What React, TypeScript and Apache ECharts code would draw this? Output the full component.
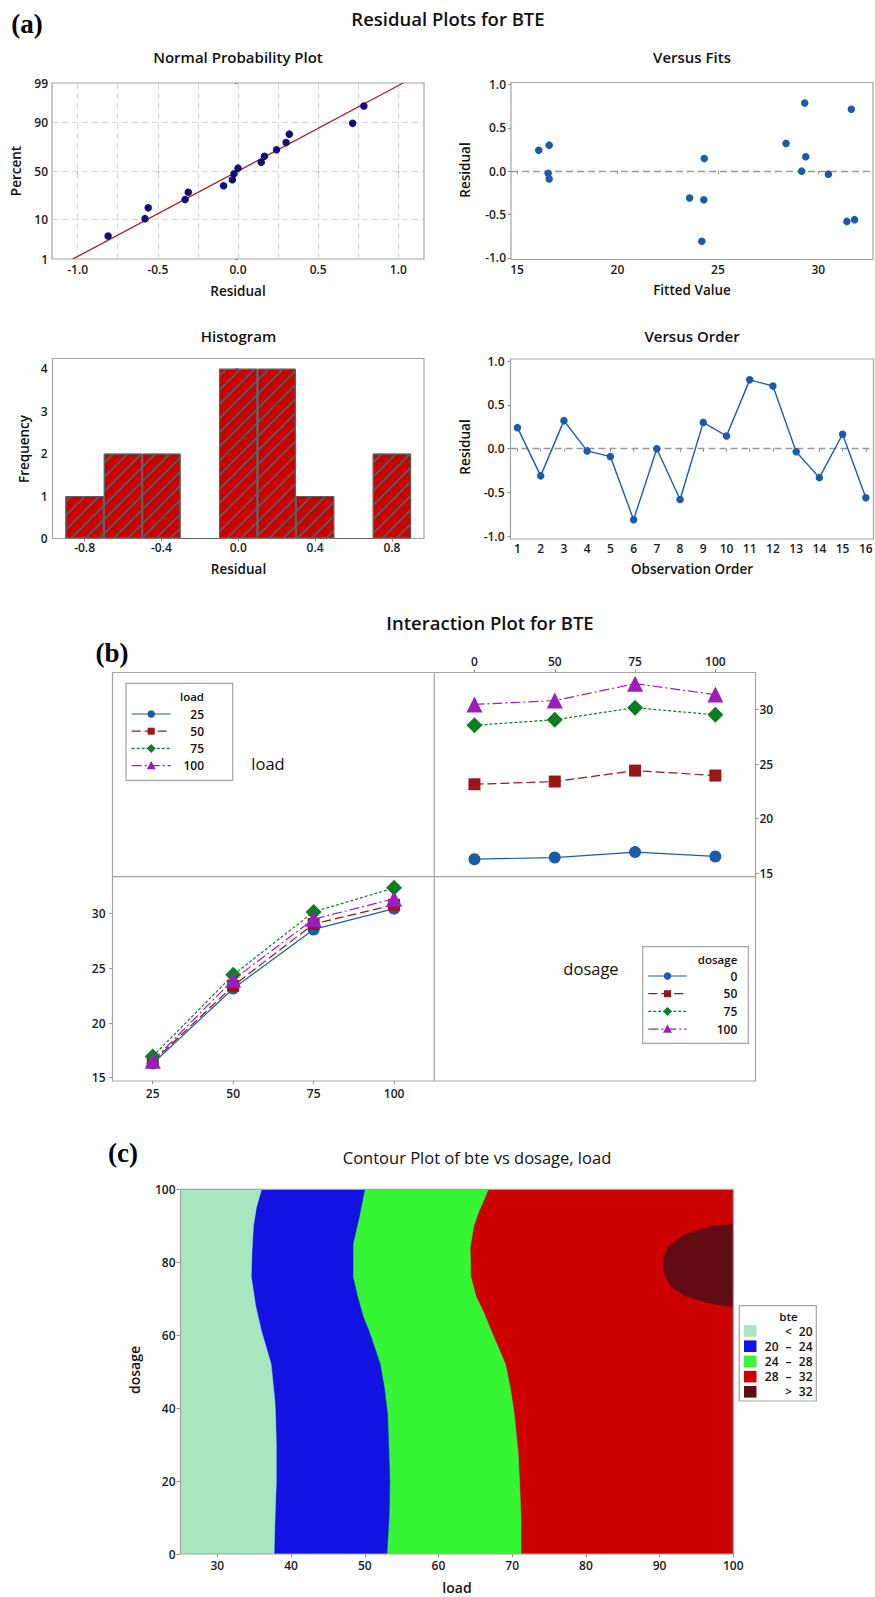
import React, { useEffect, useRef } from 'react';
import * as echarts from 'echarts';

// ---------------- DATA ----------------
const observationOrder = [1, 2, 3, 4, 5, 6, 7, 8, 9, 10, 11, 12, 13, 14, 15, 16];
const residuals = [0.24, -0.31, 0.32, -0.025, -0.09, -0.81, 0.0, -0.58, 0.30, 0.145, 0.785, 0.715, -0.035, -0.33, 0.165, -0.56];
const fittedValues = [16.08, 23.59, 28.39, 16.55, 16.6, 24.2, 29.17, 31.42, 16.6, 24.32, 29.32, 31.64, 30.5, 24.3, 29.37, 31.8];
const npPercents = [4.3, 10.4, 16.5, 22.6, 28.7, 34.8, 40.9, 47.0, 53.0, 59.1, 65.2, 71.3, 77.4, 83.5, 89.6, 95.7];
const npFitLine = [[-1.03, 1], [1.03, 99]];
const npPercentTicks = [1, 10, 50, 90, 99];
const npPercentGrid = [10, 50, 90];
const npResidualTicks = [-1, -0.5, 0, 0.5, 1];
const npResidualGrid = [-1, -0.75, -0.5, -0.25, 0, 0.25, 0.5, 0.75, 1];

const histBins = [-0.8, -0.6, -0.4, -0.2, 0, 0.2, 0.4, 0.6, 0.8];
const histCounts = [1, 2, 2, 0, 4, 4, 1, 0, 2];
const histTicks = [-0.8, -0.4, 0, 0.4, 0.8];
const freqTicks = [0, 1, 2, 3, 4];
const fitTicks = [15, 20, 25, 30];
const residTicks = [-1, -0.5, 0, 0.5, 1];

const loadLevels = ['25', '50', '75', '100'];
const dosageLevels = ['0', '50', '75', '100'];
// rows: load 25,50,75,100 ; cols: dosage 0,50,75,100
const bteMeans = [
  [16.3, 16.45, 16.95, 16.55],
  [23.15, 23.4, 24.4, 23.95],
  [28.55, 29.05, 30.15, 29.5],
  [30.45, 30.8, 32.35, 31.35],
];
const bteTicks = [15, 20, 25, 30];

const contourLoadTicks = [30, 40, 50, 60, 70, 80, 90, 100];
const contourB20 = [[36.0, 100], [35.3, 95], [34.9, 90], [34.7, 83], [34.6, 76], [35.2, 68], [36.0, 61], [37.3, 52], [37.8, 42], [37.9, 38], [38.0, 30], [38.0, 20], [37.8, 8], [37.7, 0]];
const contourB24 = [[50.0, 100], [49.2, 92], [48.4, 85], [48.4, 76], [49.1, 70], [49.8, 65], [50.6, 61], [52.1, 52], [52.7, 45], [53.1, 38], [53.4, 20], [53.3, 10], [53.0, 0]];
const contourB28 = [[66.8, 100], [65.5, 94], [64.8, 90], [64.3, 84], [64.4, 76], [65.1, 70.6], [66.2, 66], [67.2, 61], [69.1, 52], [69.8, 45], [70.3, 38], [70.8, 28], [71.0, 20], [71.2, 10], [71.2, 0]];
const contourB32 = [[100, 90.5], [96.9, 89.8], [93.2, 87.5], [91.3, 84.4], [90.6, 81.2], [90.6, 77.2], [91.5, 73.4], [93.5, 70.8], [96.5, 68.9], [100, 67.8]];
const contourLegendRows = [['', '<', '20'], ['20', '–', '24'], ['24', '–', '28'], ['28', '–', '32'], ['', '>', '32']];

// ---------------- STYLE ----------------
const FONT = '"Open Sans", "Noto Sans", sans-serif';
const SERIF = '"Liberation Serif", "DejaVu Serif", serif';
const BORDER = '#a3a3a3';
const levelColors = ['#1A5CA8', '#9B1616', '#0B7D23', '#9C1DBE'];
const levelSymbols = ['circle', 'rect', 'diamond', 'triangle'];
const levelDash: any[] = ['solid', [9, 4], [3, 2], [10, 3, 2, 3]];
const levelSymbolSize = [12, 12, 16, 16];
const contourColors = ['#A8E6C0', '#1212E2', '#35F535', '#CC0000', '#610B14'];

function normInv(p: number): number {
  const a = [-3.969683028665376e1, 2.209460984245205e2, -2.759285104469687e2, 1.38357751867269e2, -3.066479806614716e1, 2.506628277459239];
  const b = [-5.447609879822406e1, 1.615858368580409e2, -1.556989798598866e2, 6.680131188771972e1, -1.328068155288572e1];
  const c = [-7.784894002430293e-3, -3.223964580411365e-1, -2.400758277161838, -2.549671010229528, 4.374664141464968, 2.938163982698783];
  const d = [7.784695709041462e-3, 3.224671290700398e-1, 2.445134137142996, 3.754408661907416];
  const pl = 0.02425;
  if (p < pl) {
    const q = Math.sqrt(-2 * Math.log(p));
    return (((((c[0] * q + c[1]) * q + c[2]) * q + c[3]) * q + c[4]) * q + c[5]) / ((((d[0] * q + d[1]) * q + d[2]) * q + d[3]) * q + 1);
  }
  if (p <= 1 - pl) {
    const q = p - 0.5, r = q * q;
    return ((((((a[0] * r + a[1]) * r + a[2]) * r + a[3]) * r + a[4]) * r + a[5]) * q) / (((((b[0] * r + b[1]) * r + b[2]) * r + b[3]) * r + b[4]) * r + 1);
  }
  const q = Math.sqrt(-2 * Math.log(1 - p));
  return -(((((c[0] * q + c[1]) * q + c[2]) * q + c[3]) * q + c[4]) * q + c[5]) / ((((d[0] * q + d[1]) * q + d[2]) * q + d[3]) * q + 1);
}
const pz = (pct: number) => normInv(pct / 100);

function txt(text: string, x: number, y: number, size: number, opts: any = {}) {
  const el: any = {
    type: 'text',
    x,
    y,
    z: 50,
    style: {
      text,
      fill: opts.color || '#111',
      fontSize: size,
      fontFamily: opts.family || FONT,
      fontWeight: opts.weight || 'normal',
      align: opts.align || 'center',
      verticalAlign: 'middle',
      textAlign: opts.align || 'center',
      textVerticalAlign: 'middle',
    },
  };
  if (opts.rotate) el.rotation = opts.rotate;
  return el;
}

function marker(kind: string, cx: number, cy: number, s: number, color: string) {
  const h = s / 2;
  if (kind === 'circle') return { type: 'circle', z: 50, shape: { cx, cy, r: h }, style: { fill: color } };
  if (kind === 'rect') return { type: 'rect', z: 50, shape: { x: cx - h, y: cy - h, width: s, height: s }, style: { fill: color } };
  if (kind === 'diamond') return { type: 'polygon', z: 50, shape: { points: [[cx, cy - h], [cx + h, cy], [cx, cy + h], [cx - h, cy]] }, style: { fill: color } };
  return { type: 'polygon', z: 50, shape: { points: [[cx, cy - h], [cx + h, cy + h * 0.8], [cx - h, cy + h * 0.8]] }, style: { fill: color } };
}

function legendBlock(x: number, y: number, w: number, h: number, title: string, labels: string[], rowY0: number, rowStep: number, lineX0: number, lineX1: number, numRight: number, titleY: number) {
  const els: any[] = [];
  els.push({ type: 'rect', z: 40, shape: { x, y, width: w, height: h }, style: { fill: '#fff', stroke: BORDER, lineWidth: 1.2 } });
  els.push(txt(title, numRight, titleY, 11.5, { align: 'right', weight: 600 }));
  labels.forEach((lab, i) => {
    const yy = rowY0 + i * rowStep;
    const dash = levelDash[i] === 'solid' ? null : levelDash[i];
    els.push({ type: 'line', z: 45, shape: { x1: lineX0, y1: yy, x2: lineX1, y2: yy }, style: { stroke: levelColors[i], lineWidth: 1.2, lineDash: dash } });
    const mx = (lineX0 + lineX1) / 2;
    els.push(marker(levelSymbols[i], mx, yy, [7.5, 7, 9, 9][i], levelColors[i]));
    els.push(txt(lab, numRight, yy, 12, { align: 'right', weight: 600 }));
  });
  return els;
}

const axisText = (margin: number, extra: any = {}) => ({ color: '#1a1a1a', fontSize: 12, fontFamily: FONT, fontWeight: 600, margin, ...extra });
const tick = (vals: number[] | null, inside = false) => {
  const t: any = { show: true, length: 3, inside, lineStyle: { color: '#8a8a8a' } };
  if (vals) t.customValues = vals;
  return t;
};

export default function App() {
  const ref = useRef<HTMLDivElement>(null);

  useEffect(() => {
    if (!ref.current) return;
    const chart = echarts.init(ref.current, null, { renderer: 'svg' });

    const zLo = pz(1);
    const zHi = pz(99);
    const pctFormatter = (v: number) => {
      let best = npPercentTicks[0];
      let bd = Infinity;
      npPercentTicks.forEach((p) => {
        const dd = Math.abs(pz(p) - v);
        if (dd < bd) { bd = dd; best = p; }
      });
      return String(best);
    };
    const fmt1 = (v: number) => (Math.abs(v) < 1e-9 ? '0.0' : v.toFixed(1));

    const sortedRes = [...residuals].sort((a, b) => a - b);
    const npData = sortedRes.map((r, i) => [r, pz(npPercents[i])]);

    const leftPoly = (b: number[][]) => [[25, 0], [25, 100], ...b];
    const layers = [[[25, 0], [25, 100], [100, 100], [100, 0]], leftPoly(contourB28), leftPoly(contourB24), leftPoly(contourB20), contourB32];
    const layerColors = [contourColors[3], contourColors[2], contourColors[1], contourColors[0], contourColors[4]];

    const grids: any[] = [
      { left: 52, top: 83, width: 372, height: 176 },
      { left: 511, top: 82.5, width: 362, height: 177 },
      { left: 52.5, top: 358.5, width: 371.5, height: 180 },
      { left: 510.5, top: 359, width: 363, height: 180 },
      { left: 434.3, top: 672.5, width: 321.2, height: 204.2 },
      { left: 112.5, top: 876.7, width: 321.8, height: 204.3 },
      { left: 180.5, top: 1189.3, width: 552.8, height: 364.7 },
    ].map((g, i) => ({ ...g, containLabel: false, outerBoundsMode: 'none', show: i <= 3, borderColor: BORDER, borderWidth: 1.2, backgroundColor: 'transparent' }));

    const baseAxis = { axisLine: { show: false }, splitLine: { show: false } };

    const xAxis: any[] = [
      { ...baseAxis, type: 'value', gridIndex: 0, min: -1.16, max: 1.16, axisTick: tick(npResidualTicks), axisLabel: axisText(4, { customValues: npResidualTicks, formatter: fmt1 }) },
      { ...baseAxis, type: 'value', gridIndex: 1, min: 14.7, max: 32.72, axisTick: tick(fitTicks), axisLabel: axisText(4, { customValues: fitTicks }) },
      { ...baseAxis, type: 'value', gridIndex: 2, min: -0.967, max: 0.967, axisTick: tick(histTicks), axisLabel: axisText(3, { customValues: histTicks, formatter: fmt1 }) },
      { ...baseAxis, type: 'value', gridIndex: 3, min: 0.7, max: 16.33, axisTick: tick(observationOrder), axisLabel: axisText(3, { customValues: observationOrder }) },
      { ...baseAxis, type: 'category', gridIndex: 4, position: 'top', data: dosageLevels, boundaryGap: true, axisTick: { show: true, alignWithLabel: true, length: 3, lineStyle: { color: '#8a8a8a' } }, axisLabel: axisText(5) },
      { ...baseAxis, type: 'category', gridIndex: 5, position: 'bottom', data: loadLevels, boundaryGap: true, axisTick: { show: true, alignWithLabel: true, length: 3, lineStyle: { color: '#8a8a8a' } }, axisLabel: axisText(6) },
      { ...baseAxis, type: 'value', gridIndex: 6, min: 25, max: 100, axisTick: tick(contourLoadTicks), axisLabel: axisText(5, { customValues: contourLoadTicks }) },
    ];
    const yAxis: any[] = [
      { ...baseAxis, type: 'value', gridIndex: 0, min: zLo, max: zHi, axisTick: tick(npPercentTicks.map(pz)), axisLabel: axisText(4, { customValues: npPercentTicks.map(pz), formatter: pctFormatter }) },
      { ...baseAxis, type: 'value', gridIndex: 1, min: -1.02, max: 1.023, axisTick: tick(residTicks), axisLabel: axisText(5, { customValues: residTicks, formatter: fmt1 }) },
      { ...baseAxis, type: 'value', gridIndex: 2, min: 0, max: 4.24, axisTick: tick(freqTicks), axisLabel: axisText(5, { customValues: freqTicks }) },
      { ...baseAxis, type: 'value', gridIndex: 3, min: -1.03, max: 1.023, axisTick: tick(residTicks), axisLabel: axisText(6, { customValues: residTicks, formatter: fmt1 }) },
      { ...baseAxis, type: 'value', gridIndex: 4, position: 'right', min: 14.7, max: 33.37, axisTick: tick(bteTicks), axisLabel: axisText(4, { customValues: bteTicks }) },
      { ...baseAxis, type: 'value', gridIndex: 5, position: 'left', min: 14.7, max: 33.37, axisTick: tick(bteTicks), axisLabel: axisText(7, { customValues: bteTicks }) },
      { ...baseAxis, type: 'value', gridIndex: 6, min: 0, max: 100, interval: 20, axisTick: { show: true, length: 4, lineStyle: { color: '#8a8a8a' } }, axisLabel: axisText(5) },
    ];

    const series: any[] = [];
    // Normal probability plot
    series.push({
      type: 'scatter', xAxisIndex: 0, yAxisIndex: 0, z: 3,
      data: npData, symbol: 'circle', symbolSize: 7.5,
      itemStyle: { color: '#0F0F78', opacity: 1 },
      markLine: {
        z: 1, silent: true, symbol: 'none', animation: false,
        label: { show: false },
        lineStyle: { type: [6, 4], color: '#d6d6d6', width: 1 },
        data: [
          ...npResidualGrid.map((v) => ({ xAxis: v })),
          ...npPercentGrid.map((p) => ({ yAxis: pz(p) })),
        ],
      },
    });
    series.push({
      type: 'line', xAxisIndex: 0, yAxisIndex: 0, z: 2,
      data: npFitLine.map(([x, p]) => [x, pz(p)]),
      symbol: 'none', lineStyle: { color: '#A52020', width: 1.3 },
    });
    // Versus fits
    series.push({
      type: 'scatter', xAxisIndex: 1, yAxisIndex: 1, z: 3,
      data: fittedValues.map((f, i) => [f, residuals[i]]),
      symbolSize: 7.5, itemStyle: { color: '#1A5CA8', opacity: 1 },
      markLine: { z: 1, silent: true, symbol: 'none', label: { show: false }, lineStyle: { type: [7, 4], color: '#999999', width: 1.4 }, data: [{ yAxis: 0 }] },
    });
    // Histogram
    series.push({
      type: 'bar', xAxisIndex: 2, yAxisIndex: 2,
      data: histBins.map((b, i) => [b, histCounts[i]]),
      barWidth: '100%',
      itemStyle: {
        color: '#CC0000', borderColor: '#5f5f5f', borderWidth: 1, opacity: 1,
        decal: { symbol: 'rect', symbolSize: 1, dashArrayX: [1, 0], dashArrayY: [1.2, 8], rotation: -Math.PI / 4, color: '#5a5a5a', backgroundColor: 'transparent' },
      },
    });
    // Versus order
    series.push({
      type: 'line', xAxisIndex: 3, yAxisIndex: 3, z: 3,
      data: observationOrder.map((o, i) => [o, residuals[i]]),
      symbol: 'circle', symbolSize: 7.5, showSymbol: true,
      lineStyle: { color: '#1A5CA8', width: 1.4 }, itemStyle: { color: '#1A5CA8', opacity: 1 },
      markLine: { z: 1, silent: true, symbol: 'none', label: { show: false }, lineStyle: { type: [7, 4], color: '#999999', width: 1.4 }, data: [{ yAxis: 0 }] },
    });
    // Interaction: top-right (lines per load over dosage)
    loadLevels.forEach((lv, i) => {
      series.push({
        type: 'line', name: 'load ' + lv, xAxisIndex: 4, yAxisIndex: 4, z: 3 + i,
        data: bteMeans[i],
        symbol: levelSymbols[i], symbolSize: levelSymbolSize[i], showSymbol: true,
        lineStyle: { color: levelColors[i], width: 1.2, type: levelDash[i] },
        itemStyle: { color: levelColors[i], opacity: 1 },
      });
    });
    // Interaction: bottom-left (lines per dosage over load)
    dosageLevels.forEach((dv, j) => {
      series.push({
        type: 'line', name: 'dosage ' + dv, xAxisIndex: 5, yAxisIndex: 5, z: 3 + j,
        data: bteMeans.map((row) => row[j]),
        symbol: levelSymbols[j], symbolSize: levelSymbolSize[j], showSymbol: true,
        lineStyle: { color: levelColors[j], width: 1.2, type: levelDash[j] },
        itemStyle: { color: levelColors[j], opacity: 1 },
      });
    });
    // Contour
    series.push({
      type: 'custom', xAxisIndex: 6, yAxisIndex: 6, clip: true,
      data: layers.map((_, i) => [25, 0, i]),
      renderItem: (params: any, api: any) => {
        const idx = api.value(2);
        const pts = layers[idx].map((p) => api.coord(p));
        return { type: 'polygon', shape: { points: pts }, style: { fill: layerColors[idx], stroke: layerColors[idx], lineWidth: 0.5 } };
      },
    });

    const graphic: any[] = [];
    graphic.push(txt('(a)', 27, 24, 27, { family: SERIF, weight: 'bold', color: '#000' }));
    graphic.push(txt('(b)', 112, 653, 27, { family: SERIF, weight: 'bold', color: '#000' }));
    graphic.push(txt('(c)', 123, 1153, 27, { family: SERIF, weight: 'bold', color: '#000' }));
    graphic.push(txt('Residual Plots for BTE', 448, 18, 18.5, { weight: 600 }));
    graphic.push(txt('Normal Probability Plot', 238, 57, 15, { weight: 600 }));
    graphic.push(txt('Versus Fits', 692, 57, 15, { weight: 600 }));
    graphic.push(txt('Histogram', 238.5, 336, 15, { weight: 600 }));
    graphic.push(txt('Versus Order', 692, 336, 15, { weight: 600 }));
    graphic.push(txt('Percent', 16, 171, 13.5, { rotate: Math.PI / 2, weight: 600 }));
    graphic.push(txt('Residual', 238, 291, 13.5, { weight: 600 }));
    graphic.push(txt('Residual', 465, 170, 13.5, { rotate: Math.PI / 2, weight: 600 }));
    graphic.push(txt('Fitted Value', 692, 290, 13.5, { weight: 600 }));
    graphic.push(txt('Frequency', 24, 449, 13.5, { rotate: Math.PI / 2, weight: 600 }));
    graphic.push(txt('Residual', 238.5, 569, 13.5, { weight: 600 }));
    graphic.push(txt('Residual', 465, 447, 13.5, { rotate: Math.PI / 2, weight: 600 }));
    graphic.push(txt('Observation Order', 692, 569, 13.5, { weight: 600 }));

    graphic.push(txt('Interaction Plot for BTE', 490, 622, 18.5, { weight: 600 }));
    graphic.push({ type: 'rect', z: 30, shape: { x: 112.5, y: 672.5, width: 643, height: 408.5 }, style: { fill: 'none', stroke: BORDER, lineWidth: 1.2 } });
    graphic.push({ type: 'line', z: 30, shape: { x1: 434.3, y1: 672.5, x2: 434.3, y2: 1081 }, style: { stroke: BORDER, lineWidth: 1.2 } });
    graphic.push({ type: 'line', z: 30, shape: { x1: 112.5, y1: 876.7, x2: 755.5, y2: 876.7 }, style: { stroke: BORDER, lineWidth: 1.2 } });
    graphic.push(txt('load', 268, 763, 16.5, { weight: 500 }));
    graphic.push(txt('dosage', 591, 968, 16.5, { weight: 500 }));
    graphic.push(...legendBlock(126, 683.3, 106.7, 97, 'load', loadLevels, 714, 17.2, 131.7, 170.7, 204, 696));
    graphic.push(...legendBlock(642.7, 946.7, 105.6, 96.6, 'dosage', dosageLevels, 976, 17.7, 648.3, 686.7, 737.3, 959));

    graphic.push(txt('Contour Plot of bte vs dosage, load', 477, 1157, 16.5, { weight: 400 }));
    graphic.push({ type: 'rect', z: 60, shape: { x: 180.5, y: 1189.3, width: 552.8, height: 364.7 }, style: { fill: 'none', stroke: BORDER, lineWidth: 1.2 } });
    graphic.push(txt('dosage', 134.5, 1370, 14, { rotate: Math.PI / 2, weight: 600 }));
    graphic.push(txt('load', 457, 1587, 14, { weight: 600 }));
    graphic.push({ type: 'rect', z: 40, shape: { x: 739.3, y: 1305.7, width: 77, height: 95.3 }, style: { fill: '#fff', stroke: BORDER, lineWidth: 1.2 } });
    graphic.push(txt('bte', 788.5, 1316, 11.5, { weight: 600 }));
    contourLegendRows.forEach((row, i) => {
      const yy = 1331 + i * 15.2;
      graphic.push({ type: 'rect', z: 45, shape: { x: 744, y: yy - 5.8, width: 12.5, height: 11.6 }, style: { fill: contourColors[i] } });
      if (row[0]) graphic.push(txt(row[0], 778.5, yy, 12, { align: 'right', weight: 600 }));
      graphic.push(txt(row[1], 788.5, yy, 12, { weight: 600 }));
      graphic.push(txt(row[2], 812.5, yy, 12, { align: 'right', weight: 600 }));
    });

    chart.setOption({
      animation: false,
      backgroundColor: '#ffffff',
      grid: grids,
      xAxis,
      yAxis,
      series,
      graphic: { elements: graphic },
    });

    return () => chart.dispose();
  }, []);

  return <div ref={ref} style={{ position: 'absolute', left: 0, top: 0, width: 875, height: 1597 }} />;
}
